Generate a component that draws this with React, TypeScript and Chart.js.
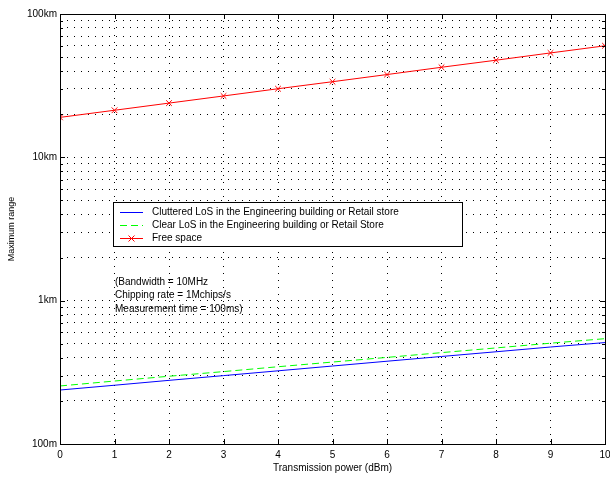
import React, { useEffect, useRef } from "react";
import { Chart, registerables } from "chart.js";

Chart.register(...registerables);

const powerDbm = [0, 1, 2, 3, 4, 5, 6, 7, 8, 9, 10];
const clutteredLos = [238, 257, 278, 300, 324, 350, 378, 408, 440, 475, 510];
const clearLos = [254, 275, 297, 320, 346, 373, 402, 434, 468, 505, 543];
const freeSpace = [19000, 21300, 23900, 26800, 30100, 33700, 37800, 42500, 47600, 53500, 60000];

const seriesLabels = [
  "Cluttered LoS in the Engineering building or Retail store",
  "Clear LoS in the Engineering building or Retail Store",
  "Free space",
];

const yGridValues = [
  100, 200, 300, 400, 500, 600, 700, 800, 900,
  1000, 2000, 3000, 4000, 5000, 6000, 7000, 8000, 9000,
  10000, 20000, 30000, 40000, 50000, 60000, 70000, 80000, 90000,
  100000,
];
const yMajorValues = [100, 1000, 10000, 100000];
const yMajorLabels = ["100m", "1km", "10km", "100km"];

const noteLines = [
  "(Bandwidth = 10MHz",
  "Chipping rate = 1Mchips/s",
  "Measurement time = 100ms)",
];

const FONT = "'Liberation Sans', Arial, sans-serif";

const overlayPlugin = {
  id: "overlay",
  afterDraw(chart: any) {
    const ctx: CanvasRenderingContext2D = chart.ctx;
    const { left, right, top, bottom } = chart.chartArea;
    const xs = chart.scales.x;
    const ys = chart.scales.y;
    ctx.save();
    ctx.strokeStyle = "#000";
    ctx.lineWidth = 1;
    ctx.setLineDash([]);
    // frame
    ctx.strokeRect(Math.round(left) + 0.5, Math.round(top) + 0.5, Math.round(right - left), Math.round(bottom - top));
    // inward ticks
    ctx.beginPath();
    xs.ticks.forEach((t: any) => {
      const px = Math.round(xs.getPixelForValue(t.value)) + 0.5;
      ctx.moveTo(px, bottom);
      ctx.lineTo(px, bottom - 5);
      ctx.moveTo(px, top);
      ctx.lineTo(px, top + 5);
    });
    ys.ticks.forEach((t: any) => {
      const py = Math.round(ys.getPixelForValue(t.value)) + 0.5;
      const len = yMajorValues.includes(t.value) ? 5 : 3;
      ctx.moveTo(left, py);
      ctx.lineTo(left + len, py);
      ctx.moveTo(right, py);
      ctx.lineTo(right - len, py);
    });
    ctx.stroke();

    // legend box
    const lx = 113, ly = 202, lw = 349, lh = 44;
    ctx.fillStyle = "#fff";
    ctx.fillRect(lx, ly, lw, lh);
    ctx.strokeRect(lx + 0.5, ly + 0.5, lw, lh);
    ctx.font = `10px ${FONT}`;
    ctx.textBaseline = "middle";
    ctx.textAlign = "left";
    const rows = [212, 225, 238];
    chart.data.datasets.forEach((ds: any, i: number) => {
      const y = rows[i] + 0.5;
      ctx.save();
      ctx.strokeStyle = ds.borderColor;
      ctx.lineWidth = 1;
      ctx.setLineDash(ds.borderDash || []);
      ctx.beginPath();
      ctx.moveTo(120, y);
      ctx.lineTo(143, y);
      ctx.stroke();
      if (ds.pointStyle === "crossRot") {
        ctx.setLineDash([]);
        ctx.beginPath();
        ctx.moveTo(128.5, y - 3);
        ctx.lineTo(134.5, y + 3);
        ctx.moveTo(128.5, y + 3);
        ctx.lineTo(134.5, y - 3);
        ctx.stroke();
      }
      ctx.restore();
      ctx.fillStyle = "#000";
      ctx.fillText(ds.label, 152, rows[i]);
    });

    // note text
    ctx.fillStyle = "#000";
    const noteRows = [282, 295.5, 309];
    noteLines.forEach((s, i) => ctx.fillText(s, 115, noteRows[i]));
    ctx.restore();
  },
};

export default function App() {
  const ref = useRef<HTMLCanvasElement | null>(null);
  useEffect(() => {
    if (!ref.current) return;
    const chart = new Chart(ref.current, {
      type: "line",
      data: {
        labels: powerDbm,
        datasets: [
          {
            label: seriesLabels[0],
            data: powerDbm.map((x, i) => ({ x, y: clutteredLos[i] })),
            borderColor: "#0000ff",
            backgroundColor: "#0000ff",
            borderWidth: 1,
            pointRadius: 0,
            tension: 0,
          },
          {
            label: seriesLabels[1],
            data: powerDbm.map((x, i) => ({ x, y: clearLos[i] })),
            borderColor: "#00ff00",
            backgroundColor: "#00ff00",
            borderWidth: 1,
            borderDash: [7, 4],
            pointRadius: 0,
            tension: 0,
          },
          {
            label: seriesLabels[2],
            data: powerDbm.map((x, i) => ({ x, y: freeSpace[i] })),
            borderColor: "#ff0000",
            backgroundColor: "#ff0000",
            borderWidth: 1,
            pointStyle: "crossRot",
            pointRadius: 4,
            pointBorderWidth: 1,
            pointBorderColor: "#ff0000",
            tension: 0,
          },
        ],
      } as any,
      options: {
        animation: false,
        responsive: false,
        maintainAspectRatio: false,
        layout: { padding: { left: 0, top: 14, right: 4, bottom: 0 } },
        plugins: {
          legend: { display: false },
          tooltip: { enabled: false },
        },
        scales: {
          x: {
            type: "linear",
            min: 0,
            max: 10,
            ticks: {
              stepSize: 1,
              color: "#000",
              font: { family: FONT, size: 10 },
              padding: 5,
              maxRotation: 0,
            },
            grid: { color: "#000", lineWidth: 1, drawTicks: false },
            border: { display: false, dash: [1, 6] },
            title: {
              display: true,
              text: "Transmission power (dBm)",
              color: "#000",
              font: { family: FONT, size: 10 },
              padding: { top: 0, bottom: 4 },
            },
            afterFit(scale: any) {
              scale.height = 34;
              scale.paddingLeft = 0;
              scale.paddingRight = 0;
            },
          },
          y: {
            type: "logarithmic",
            min: 100,
            max: 100000,
            afterBuildTicks(scale: any) {
              scale.ticks = yGridValues.map((v) => ({ value: v, major: yMajorValues.includes(v) }));
            },
            ticks: {
              autoSkip: false,
              color: "#000",
              font: { family: FONT, size: 10 },
              padding: 3,
              callback(value: any) {
                const i = yMajorValues.indexOf(Number(value));
                return i >= 0 ? yMajorLabels[i] : "";
              },
            },
            grid: { color: "#000", lineWidth: 1, drawTicks: false },
            border: { display: false, dash: [1, 6] },
            title: {
              display: true,
              text: "Maximum range",
              color: "#000",
              font: { family: FONT, size: 9 },
              padding: { top: 6, bottom: 0 },
            },
            afterFit(scale: any) {
              scale.width = 60;
              scale.paddingTop = 0;
              scale.paddingBottom = 0;
            },
          },
        },
      } as any,
      plugins: [overlayPlugin],
    });
    return () => chart.destroy();
  }, []);
  return (
    <div style={{ position: "absolute", left: 0, top: 0, width: 610, height: 478, background: "#fff" }}>
      <canvas ref={ref} width={610} height={478} style={{ width: 610, height: 478, display: "block" }} />
    </div>
  );
}
